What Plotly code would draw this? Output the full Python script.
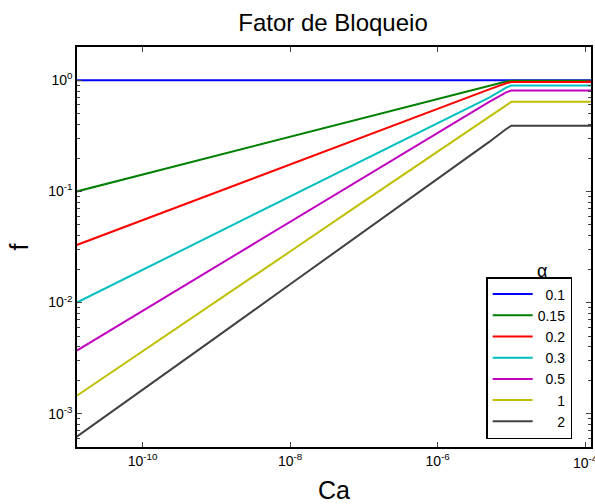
import plotly.graph_objects as go

# Capillary number (Ca) sample points
ca = [1.28e-11, 1e-10, 1e-9, 1e-8, 1e-7, 1e-6, 5e-6, 8.5e-6, 1e-5, 1e-4, 1.2e-4]

alphas = ["0.1", "0.15", "0.2", "0.3", "0.5", "1", "2"]

f_01  = [1.0, 1.0, 1.0, 1.0, 1.0, 1.0, 1.0, 1.0, 1.0, 1.0, 1.0]
f_015 = [0.100, 0.142, 0.210, 0.310, 0.458, 0.678, 0.89, 0.975, 0.99, 0.99, 0.99]
f_02  = [0.033, 0.0553, 0.0983, 0.175, 0.311, 0.553, 0.83, 0.94, 0.965, 0.965, 0.965]
f_03  = [0.0100, 0.0197, 0.0421, 0.090, 0.192, 0.411, 0.70, 0.86, 0.90, 0.90, 0.90]
f_05  = [0.0037, 0.00843, 0.0212, 0.0532, 0.134, 0.336, 0.64, 0.78, 0.81, 0.81, 0.81]
f_1   = [0.00145, 0.00363, 0.0102, 0.0288, 0.0813, 0.229, 0.473, 0.60, 0.64, 0.64, 0.64]
f_2   = [0.00062, 0.00163, 0.00488, 0.0146, 0.0435, 0.130, 0.279, 0.365, 0.39, 0.39, 0.39]

series = [f_01, f_015, f_02, f_03, f_05, f_1, f_2]
colors = ["#0000ff", "#008000", "#ff0000", "#00bfbf", "#bf00bf", "#bfbf00", "#404040"]
NB = "\u00a0"
labels = [NB * 2 + a if len(a) == 3 else
          (a if len(a) == 4 else NB * 5 + a) for a in alphas]

x_tickvals = [1e-10, 1e-8, 1e-6, 1e-4]
x_ticktext = ["10<sup>-10</sup>", "10<sup>-8</sup>", "10<sup>-6</sup>", "10<sup>-4</sup>"]
y_tickvals = [1e-3, 1e-2, 1e-1, 1e0]
y_ticktext = ["10<sup>-3</sup>", "10<sup>-2</sup>", "10<sup>-1</sup>", "10<sup>0</sup>"]

fig = go.Figure()
for y, c, lab in zip(series, colors, labels):
    fig.add_trace(go.Scatter(x=ca, y=y, mode="lines", name=lab,
                             line=dict(color=c, width=2)))

font_family = "Liberation Sans, Arial, sans-serif"

fig.update_layout(
    width=595, height=504,
    margin=dict(l=77, r=2, t=47, b=57),
    paper_bgcolor="white", plot_bgcolor="white",
    font=dict(family=font_family, color="black", size=14),
    title=dict(text="Fator de Bloqueio", x=333 / 595, xanchor="center",
               y=1 - 23 / 504, yanchor="middle", font=dict(size=24)),
    showlegend=True,
    legend=dict(x=0.9634, y=0.02, xanchor="right", yanchor="bottom",
                bgcolor="white", bordercolor="black", borderwidth=1.5,
                font=dict(size=14), itemwidth=40),
    xaxis=dict(type="log", range=[-10.89, -3.92], title=dict(text="Ca", font=dict(size=25), standoff=14),
               tickvals=x_tickvals, ticktext=x_ticktext, ticks="inside", ticklen=5,
               showline=True, linecolor="black", linewidth=1.5, mirror="ticks",
               showgrid=False, zeroline=False, tickfont=dict(size=14)),
    yaxis=dict(type="log", range=[-3.3, 0.3], title=dict(text="f", font=dict(size=25), standoff=12),
               tickvals=y_tickvals, ticktext=y_ticktext, ticks="inside", ticklen=5,
               showline=True, linecolor="black", linewidth=1.5, mirror="ticks",
               showgrid=False, zeroline=False, tickfont=dict(size=14),
               minor=dict(ticks="inside", ticklen=3, dtick="D1", showgrid=False)),
)

fig.add_annotation(text="\u03b1", x=(544 - 77) / 516, y=(447 - 271) / 400, xref="paper", yref="paper",
                   showarrow=False, font=dict(size=18), xanchor="center", yanchor="middle")

# right-most tick label (hidden by Plotly since it runs past the page edge); drawn so the page clips it
fig.add_annotation(text=x_ticktext[-1], x=-4, xref="x", y=-0.038, yref="paper",
                   showarrow=False, font=dict(size=14), xanchor="center", yanchor="middle")

post_js = "document.body.style.margin='0';"

fig.write_html("out.html", config={"displayModeBar": False}, post_script=post_js)
